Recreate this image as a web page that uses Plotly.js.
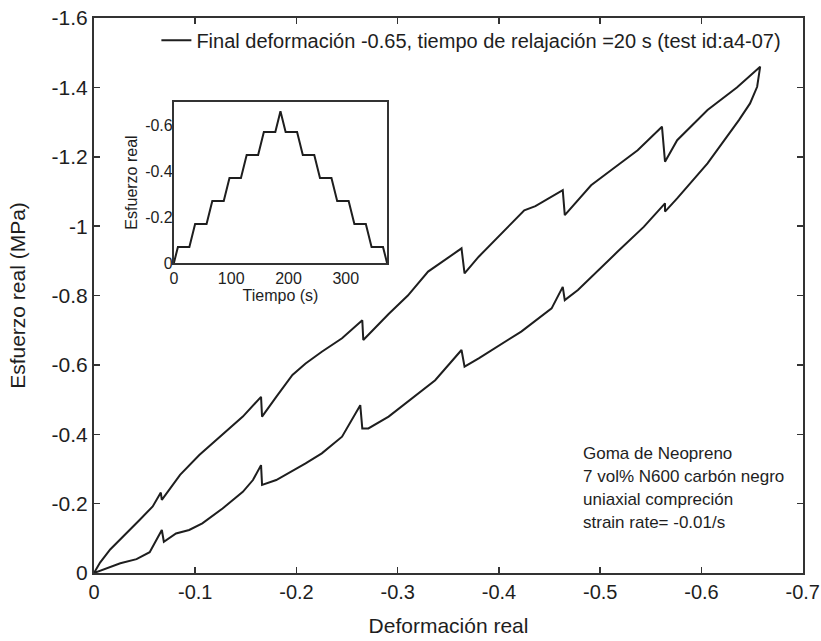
<!DOCTYPE html>
<html>
<head>
<meta charset="utf-8">
<script src="https://cdn.plot.ly/plotly-3.0.1.min.js"></script>
<style>
html,body{margin:0;padding:0;background:#fff;}
#chart{width:821px;height:641px;}
</style>
</head>
<body>
<div id="chart"></div>
<script>
// ---- Main loop: loading branch (strain, stress in MPa)
const loadStrain = [0, -0.006, -0.016, -0.029, -0.045, -0.058, -0.066, -0.067, -0.085, -0.104, -0.127, -0.147, -0.165, -0.166, -0.180, -0.196, -0.209, -0.225, -0.245, -0.265, -0.266, -0.279, -0.291, -0.310, -0.330, -0.363, -0.366, -0.380, -0.396, -0.425, -0.436, -0.463, -0.465, -0.478, -0.491, -0.511, -0.537, -0.561, -0.564, -0.576, -0.606, -0.635, -0.658];
const loadStress = [0, -0.030, -0.068, -0.105, -0.153, -0.192, -0.232, -0.211, -0.283, -0.340, -0.400, -0.451, -0.508, -0.451, -0.508, -0.571, -0.604, -0.638, -0.677, -0.729, -0.672, -0.712, -0.747, -0.800, -0.869, -0.936, -0.864, -0.912, -0.960, -1.046, -1.058, -1.104, -1.032, -1.075, -1.118, -1.162, -1.219, -1.287, -1.186, -1.248, -1.335, -1.400, -1.460];
// ---- Unloading branch
const unloadStrain = [-0.655, -0.648, -0.637, -0.606, -0.576, -0.564, -0.564, -0.543, -0.517, -0.478, -0.465, -0.463, -0.452, -0.422, -0.380, -0.366, -0.363, -0.337, -0.291, -0.271, -0.265, -0.263, -0.245, -0.225, -0.209, -0.180, -0.166, -0.165, -0.157, -0.147, -0.127, -0.107, -0.094, -0.081, -0.069, -0.067, -0.055, -0.042, -0.026, -0.009, 0];
const unloadStress = [-1.402, -1.354, -1.306, -1.181, -1.080, -1.042, -1.066, -0.998, -0.926, -0.816, -0.787, -0.825, -0.763, -0.696, -0.619, -0.595, -0.643, -0.556, -0.451, -0.417, -0.417, -0.484, -0.393, -0.345, -0.316, -0.268, -0.254, -0.311, -0.268, -0.234, -0.186, -0.143, -0.124, -0.114, -0.090, -0.124, -0.060, -0.040, -0.028, -0.009, 0];

// ---- Inset: strain history vs time
const insetTime = [0, 7, 27, 37, 57, 67, 87, 97, 117, 127, 147, 157, 177, 186, 195, 215, 225, 245, 255, 275, 285, 305, 315, 335, 345, 365, 372];
const insetValue = [0, -0.07, -0.07, -0.17, -0.17, -0.27, -0.27, -0.37, -0.37, -0.47, -0.47, -0.57, -0.57, -0.66, -0.57, -0.57, -0.47, -0.47, -0.37, -0.37, -0.27, -0.27, -0.17, -0.17, -0.07, -0.07, 0];

// ---- Tick labels
const xTickVals = [0, -0.1, -0.2, -0.3, -0.4, -0.5, -0.6, -0.7];
const xTickText = ['0', '-0.1', '-0.2', '-0.3', '-0.4', '-0.5', '-0.6', '-0.7'];
const yTickVals = [0, -0.2, -0.4, -0.6, -0.8, -1.0, -1.2, -1.4, -1.6];
const yTickText = ['0', '-0.2', '-0.4', '-0.6', '-0.8', '-1', '-1.2', '-1.4', '-1.6'];
const insetXTickVals = [0, 100, 200, 300];
const insetXTickText = ['0', '100', '200', '300'];
const insetYTickVals = [0, -0.2, -0.4, -0.6];
const insetYTickText = ['0', '-0.2', '-0.4', '-0.6'];

// ---- Text
const seriesName = 'Final deformación -0.65, tiempo de relajación =20 s (test id:a4-07)';
const xTitle = 'Deformación real';
const yTitle = 'Esfuerzo real (MPa)';
const insetXTitle = 'Tiempo (s)';
const insetYTitle = 'Esfuerzo real';
const noteLines = ['Goma de Neopreno', '7 vol% N600 carbón negro', 'uniaxial compreción', 'strain rate= -0.01/s'];

const FONT = 'Liberation Sans, Arial, sans-serif';
const INK = '#1e1e1e';
const FRAME = '#333333';

const traces = [
  {
    x: loadStrain.concat(unloadStrain),
    y: loadStress.concat(unloadStress),
    type: 'scatter', mode: 'lines',
    name: seriesName,
    line: {color: INK, width: 2},
    xaxis: 'x', yaxis: 'y'
  },
  {
    x: insetTime, y: insetValue,
    type: 'scatter', mode: 'lines',
    showlegend: false,
    line: {color: INK, width: 2},
    xaxis: 'x2', yaxis: 'y2'
  }
];

const noteAnnotations = noteLines.map((t, i) => ({
  text: t, xref: 'paper', yref: 'paper',
  x: 0.687, y: 0.216 - i * 0.0415,
  xanchor: 'left', yanchor: 'middle', showarrow: false,
  font: {family: FONT, size: 17, color: INK}
}));

const layout = {
  width: 821, height: 641,
  margin: {l: 94, r: 18, t: 18, b: 68},
  paper_bgcolor: '#fff', plot_bgcolor: '#fff',
  font: {family: FONT, size: 17, color: INK},
  showlegend: true,
  legend: {
    x: 0.088, y: 0.995, xanchor: 'left', yanchor: 'top',
    bgcolor: 'rgba(0,0,0,0)', borderwidth: 0,
    font: {family: FONT, size: 20, color: INK}
  },
  xaxis: {
    range: [0, -0.7003], domain: [0, 1],
    tickvals: xTickVals, ticktext: xTickText,
    ticks: 'inside', ticklen: 6, tickwidth: 1.5, tickcolor: FRAME,
    ticklabeloverflow: 'allow',
    showline: true, linecolor: FRAME, linewidth: 2, mirror: 'ticks',
    showgrid: false, zeroline: false,
    tickfont: {family: FONT, size: 20, color: INK},
    title: {text: xTitle, font: {family: FONT, size: 21, color: INK}, standoff: 16}
  },
  yaxis: {
    range: [0, -1.6003], domain: [0, 1],
    tickvals: yTickVals, ticktext: yTickText,
    ticks: 'inside', ticklen: 6, tickwidth: 1.5, tickcolor: FRAME,
    showline: true, linecolor: FRAME, linewidth: 2, mirror: 'ticks',
    showgrid: false, zeroline: false,
    tickfont: {family: FONT, size: 21, color: INK},
    title: {text: yTitle, font: {family: FONT, size: 21, color: INK}, standoff: 20}
  },
  xaxis2: {
    anchor: 'y2', domain: [0.1127, 0.4133],
    range: [0, 372],
    tickvals: insetXTickVals, ticktext: insetXTickText,
    ticks: '', ticklen: 0, showline: true, linecolor: FRAME, linewidth: 2, mirror: true,
    showgrid: false, zeroline: false,
    tickfont: {family: FONT, size: 16, color: INK},
    title: {text: insetXTitle, font: {family: FONT, size: 16, color: INK}, standoff: 4}
  },
  yaxis2: {
    anchor: 'x2', domain: [0.5586, 0.8486],
    range: [0, -0.7],
    tickvals: insetYTickVals, ticktext: insetYTickText,
    ticks: '', ticklen: 0, ticklabelstandoff: -4,
    showline: true, linecolor: FRAME, linewidth: 2, mirror: true,
    showgrid: false, zeroline: false,
    tickfont: {family: FONT, size: 16, color: INK},
    title: {text: insetYTitle, font: {family: FONT, size: 16, color: INK}, standoff: 4}
  },
  annotations: noteAnnotations
};

Plotly.newPlot('chart', traces, layout, {displayModeBar: false, staticPlot: true});
</script>
</body>
</html>
